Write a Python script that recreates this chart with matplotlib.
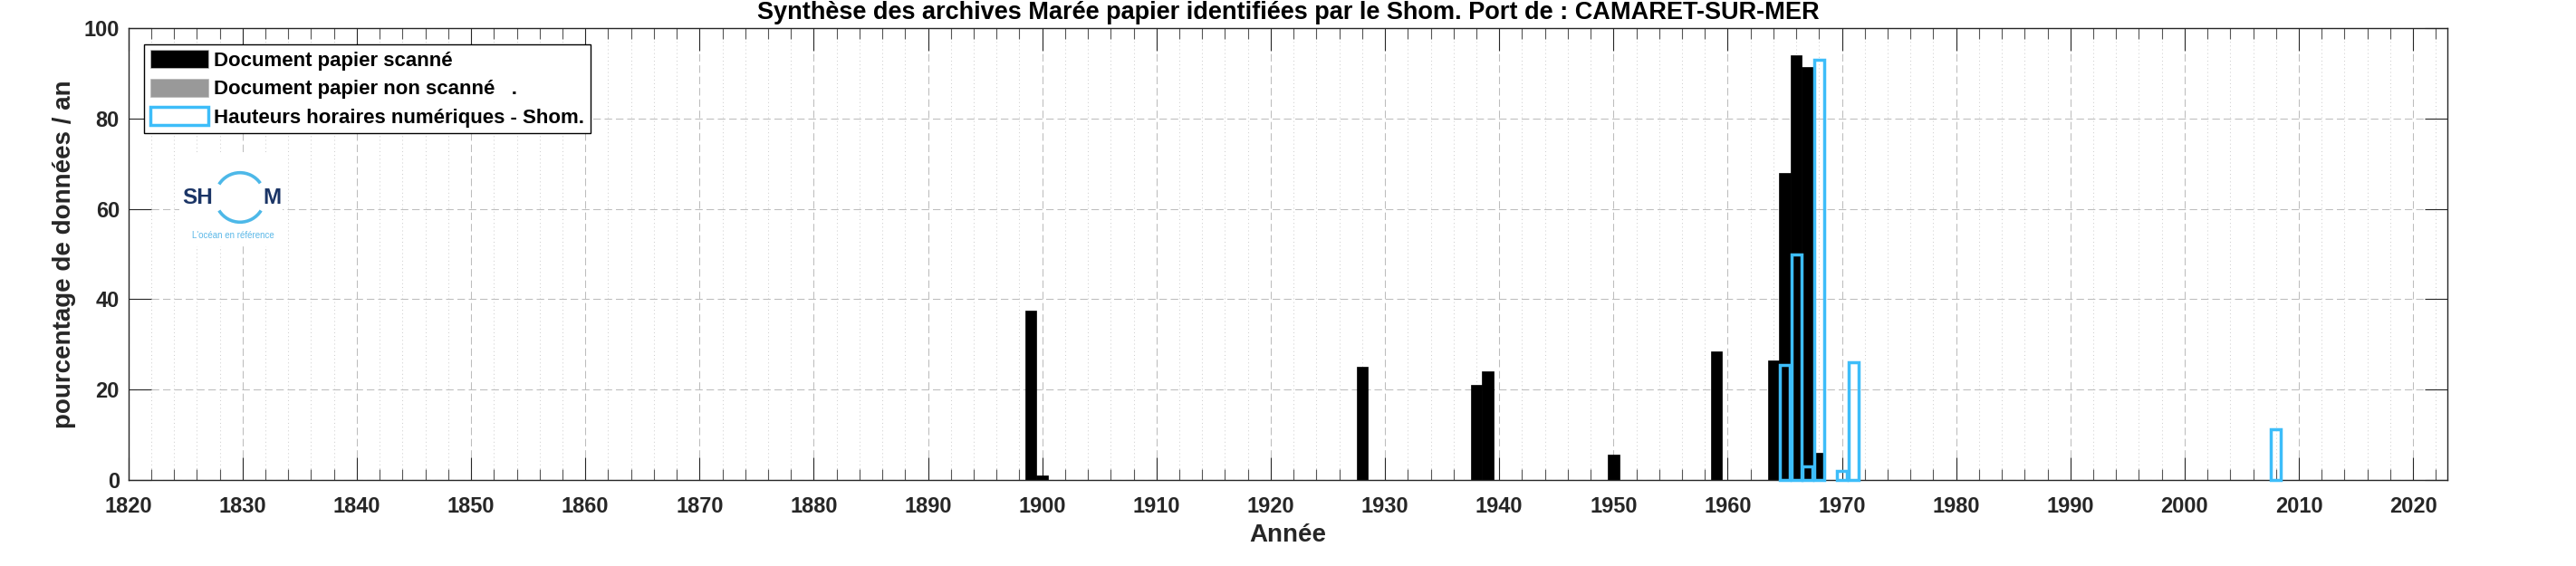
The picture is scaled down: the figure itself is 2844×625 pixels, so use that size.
import matplotlib
matplotlib.use("Agg")
import matplotlib.pyplot as plt
from matplotlib.patches import Patch, Arc, Rectangle
from matplotlib.ticker import MultipleLocator, NullLocator

plt.rcParams['font.family'] = ['Liberation Sans', 'DejaVu Sans']

# values (percentage of data per year)
scan_years = [1899, 1900, 1928, 1938, 1939, 1950, 1959, 1964, 1965, 1966, 1967, 1968]
scan_vals = [37.4, 1.0, 25.1, 21.0, 24.1, 5.6, 28.4, 26.4, 68.0, 94.0, 91.3, 6.0]
num_years = [1965, 1966, 1967, 1968, 1970, 1971, 2008]
num_vals = [25.4, 50.0, 3.0, 93.0, 2.0, 26.0, 11.3]
x_ticks = list(range(1820, 2021, 10))
y_ticks = [0, 20, 40, 60, 80, 100]

blue = '#3DBDF9'
txt = '#262626'

fig = plt.figure(figsize=(28.44, 6.25), dpi=100)
W, H = 2844, 625
ax = fig.add_axes([141.7 / W, 1 - 530 / H, (2702 - 141.7) / W, (530 - 31) / H])

ax.bar(scan_years, scan_vals, width=1.0, color='black', edgecolor='black', linewidth=0.5, zorder=2)
ax.bar(num_years, num_vals, width=0.88, facecolor='none', edgecolor=blue, linewidth=2.5,
       zorder=3, clip_on=False)

ax.set_xlim(1820, 2023)
ax.set_ylim(0, 100)
ax.set_xticks(x_ticks)
ax.set_yticks(y_ticks)
ax.xaxis.set_minor_locator(MultipleLocator(2))
ax.yaxis.set_minor_locator(NullLocator())

ax.tick_params(which='major', direction='in', length=18, width=0.8, color=txt,
               top=True, right=True, labelsize=17, labelcolor=txt)
ax.tick_params(which='minor', direction='in', length=8.5, width=0.8, color='#555555',
               top=True, right=True)
ax.tick_params(axis='x', pad=13)
ax.tick_params(axis='y', pad=7)
for lab in ax.get_xticklabels() + ax.get_yticklabels():
    lab.set_fontweight('bold')
for s in ax.spines.values():
    s.set_color(txt)
    s.set_linewidth(1.0)

ax.set_axisbelow(True)
ax.grid(which='major', axis='both', color='#bdbdbd', linestyle=(0, (8, 4)), linewidth=0.75)
ax.grid(which='minor', axis='x', color='#d0d0d0', linestyle=(0, (1, 3)), linewidth=0.75)

ax.set_title("Synthèse des archives Marée papier identifiées par le Shom. Port de : CAMARET-SUR-MER",
             fontsize=19.5, fontweight='bold', color='black', pad=7)
ax.set_xlabel("Année", fontsize=20, fontweight='bold', color=txt, labelpad=5)
ax.set_ylabel("pourcentage de données / an", fontsize=20, fontweight='bold', color=txt, labelpad=6)

handles = [Patch(facecolor='black', edgecolor='#bbbbbb', linewidth=0.5),
           Patch(facecolor='#999999', edgecolor='#bbbbbb', linewidth=0.5),
           Patch(facecolor='white', edgecolor=blue, linewidth=2.5)]
labels = ["Document papier scanné", "Document papier non scanné   .",
          "Hauteurs horaires numériques - Shom."]
leg = ax.legend(handles, labels, loc='upper left',
                bbox_to_anchor=((159.3 - 141.7) / 2560.3, (530 - 48.6) / 499),
                borderaxespad=0, fancybox=False, shadow=False, framealpha=1,
                edgecolor='black', handlelength=2.9, handleheight=1.0,
                handletextpad=0.25, labelspacing=0.4, borderpad=0.3,
                prop={'size': 16, 'weight': 'bold'})
leg.get_frame().set_linewidth(1.0)
leg.set_zorder(10)

# Shom logo drawn in a small white box (pixel coords, y up)
lx0, lx1, ly_top, ly_bot = 198, 312, 168, 272
lax = fig.add_axes([lx0 / W, 1 - ly_bot / H, (lx1 - lx0) / W, (ly_bot - ly_top) / H])
lax.set_xlim(lx0, lx1)
lax.set_ylim(H - ly_bot, H - ly_top)
lax.axis('off')
lax.add_patch(Rectangle((lx0, H - ly_bot), lx1 - lx0, ly_bot - ly_top, facecolor='white',
                        edgecolor='none', zorder=0))
cx, cy, r = 265, H - 218, 27.3
lax.add_patch(Arc((cx, cy), 2 * r, 2 * r, theta1=35, theta2=148, color='#4DB8E8', linewidth=2.6))
lax.add_patch(Arc((cx, cy), 2 * r, 2 * r, theta1=212, theta2=328, color='#4DB8E8', linewidth=2.6))
logo_font = ['Liberation Sans Narrow', 'Liberation Sans']
lax.text(218, cy, "SH", family=logo_font, fontsize=17.5, fontweight='bold', color='#1B3566',
         ha='center', va='center')
lax.text(300, cy, "M", family=logo_font, fontsize=17.5, fontweight='bold', color='#1B3566',
         ha='center', va='center')
lax.text(257.5, H - 259.5, "L'océan en référence", family=logo_font, fontsize=7,
         color='#5BB8E8', ha='center', va='center')

fig.savefig('out.png', dpi=100, facecolor='white')
